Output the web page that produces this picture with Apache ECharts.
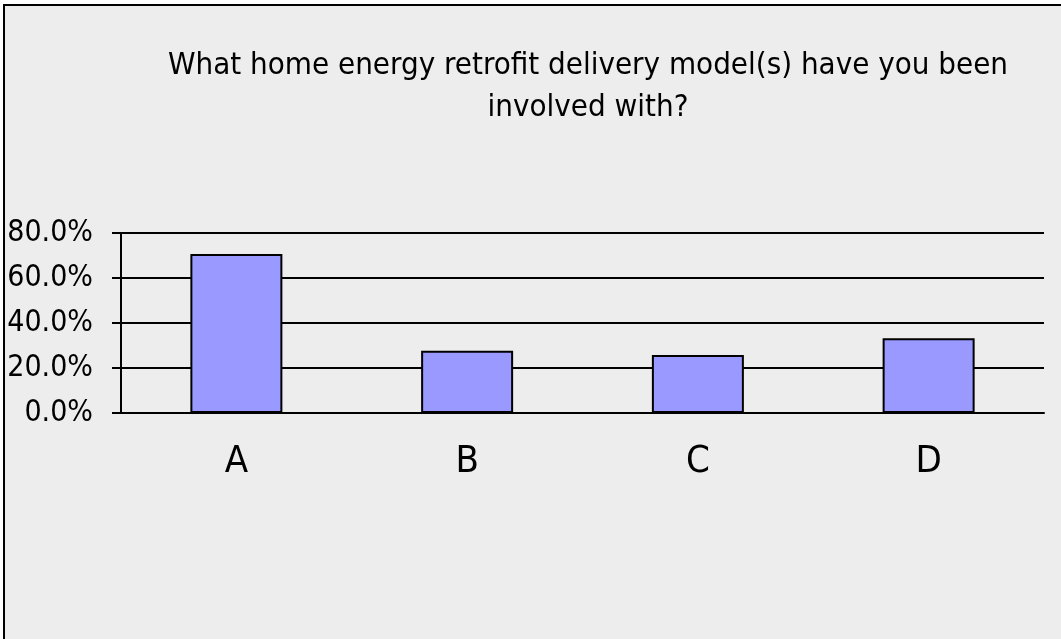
<!DOCTYPE html>
<html>
<head>
<meta charset="utf-8">
<script src="https://cdn.jsdelivr.net/npm/echarts@6/dist/echarts.min.js"></script>
<style>
  html, body { margin: 0; padding: 0; background: #fff; }
  #chart { width: 1061px; height: 639px; }
</style>
</head>
<body>
<div id="chart"></div>
<script>
var categories = ['A', 'B', 'C', 'D'];
var shares = [0.707, 0.277, 0.258, 0.332];
var titleText = 'What home energy retrofit delivery model(s) have you been\ninvolved with?';

var narrow = '"DejaVu Sans Condensed", "Liberation Sans", sans-serif';

var myChart = echarts.init(document.getElementById('chart'));
var option = {
  animation: false,
  graphic: [{
    type: 'rect',
    z: -10,
    shape: { x: 4, y: 5, width: 1080, height: 660 },
    style: { fill: '#ededed', stroke: '#000', lineWidth: 2 }
  }],
  title: {
    text: titleText,
    left: 583,
    top: 40,
    textAlign: 'center',
    textStyle: {
      fontFamily: narrow,
      fontWeight: 'normal',
      fontSize: 31,
      lineHeight: 42,
      color: '#000'
    }
  },
  grid: { left: 121, right: 17, top: 233, bottom: 226 },
  xAxis: {
    type: 'category',
    data: categories,
    axisLine: { lineStyle: { color: '#000', width: 2 } },
    axisTick: { length: 7, lineStyle: { color: '#000', width: 2 } },
    axisLabel: {
      margin: 30,
      fontFamily: narrow,
      fontSize: 38,
      color: '#000'
    }
  },
  yAxis: {
    type: 'value',
    min: 0,
    max: 0.8,
    interval: 0.2,
    axisLine: { show: true, lineStyle: { color: '#000', width: 2 } },
    axisTick: { show: true, length: 9, lineStyle: { color: '#000', width: 2 } },
    splitLine: { lineStyle: { color: '#000', width: 2 } },
    axisLabel: {
      margin: 28,
      fontFamily: narrow,
      fontSize: 30,
      color: '#000',
      formatter: function (v) { return (v * 100).toFixed(1) + '%'; }
    }
  },
  series: [{
    type: 'bar',
    data: shares,
    barWidth: 92,
    itemStyle: { color: '#9999ff', borderColor: '#000', borderWidth: 2 }
  }]
};
myChart.setOption(option);
</script>
</body>
</html>
